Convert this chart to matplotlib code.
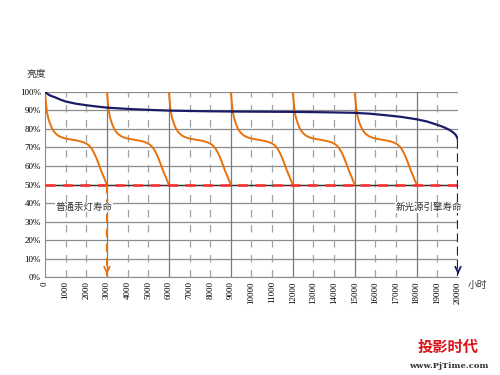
import numpy as np
import matplotlib.pyplot as plt

plt.rcParams['font.family'] = ['Noto Sans CJK SC', 'DejaVu Sans']

# one lamp cycle of the ordinary lamp (hours from cycle start, brightness %)
cycle_t = [0, 20, 40, 60, 80, 110, 150, 200, 250, 300, 350, 420, 500, 600, 700, 850, 1000, 1150,
           1300, 1450, 1600, 1750, 1900, 2000, 2100, 2180, 2250, 2320, 2400, 2480, 2550, 2620,
           2700, 2780, 2850, 2920, 3000]
cycle_v = [100, 97.5, 95, 92.5, 90.5, 88.3, 86.2, 84.3, 82.7, 81.3, 80.1, 78.8, 77.7, 76.7, 76,
           75.3, 74.8, 74.5, 74.2, 73.9, 73.6, 73.2, 72.6, 72.1, 71.3, 70.5, 69.5, 68.2, 66.5,
           64.5, 62.5, 60.4, 58, 55.8, 54, 52, 50]
cycle_starts = [0, 3000, 6000, 9000, 12000, 15000]

# new light engine
new_t = [0, 100, 200, 350, 500, 750, 1000, 1500, 2000, 2500, 3000, 4000, 5000, 6000, 7500, 9000,
         10500, 12000, 13500, 15000, 15750, 16500, 17250, 18000, 18500, 19000, 19300, 19600,
         19800, 19900, 19960, 20000]
new_v = [100, 99.1, 98.3, 97.6, 97, 95.8, 94.8, 93.6, 92.8, 92.1, 91.5, 90.8, 90.3, 89.9, 89.6,
         89.4, 89.3, 89.2, 89, 88.7, 88.2, 87.4, 86.5, 85.2, 84, 82.2, 81, 79.4, 77.8, 76.6,
         75.4, 74]

x_ticks = list(range(0, 20001, 1000))
y_ticks = list(range(0, 101, 10))

fig = plt.figure(figsize=(5, 3.75), dpi=100)
ax = fig.add_axes([0.09, 0.261, 0.826, 0.494])

navy = '#1c1c66'
orange = '#e8720c'

# grid
for y in y_ticks:
    ax.axhline(y, color='#8c8c8c', lw=0.9, zorder=1)
for x in x_ticks[1:-1]:
    if x % 3000 == 0:
        ax.axvline(x, color='#7a7a7a', lw=0.9, zorder=1)
    else:
        ax.axvline(x, color='#a0a0a0', lw=0.9, ls=(0, (6, 6)), zorder=1)

# ordinary lamp cycles
for s in cycle_starts:
    ax.plot(np.array(cycle_t) + s, cycle_v, color=orange, lw=1.4, zorder=3)

ax.plot(new_t, new_v, color=navy, lw=1.6, zorder=3)

# 50% line
ax.axhline(50, color='#333333', lw=1.0, zorder=2)
ax.axhline(50, color='#ff2a2a', lw=1.8, ls=(0, (4, 3)), zorder=4)

# lifetime markers
ax.plot([3000, 3000], [50, 0.5], color=orange, lw=1.5, ls=(0, (4, 3)), zorder=4)
ax.annotate('', xy=(3000, 0), xytext=(3000, 4),
            arrowprops=dict(arrowstyle='->', color=orange, lw=1.3, mutation_scale=10), zorder=5)
ax.plot([20000, 20000], [new_v[-1], 0.5], color=navy, lw=1.6, ls=(0, (4, 2)), zorder=4)
ax.annotate('', xy=(20000, 0), xytext=(20000, 4),
            arrowprops=dict(arrowstyle='->', color=navy, lw=1.3, mutation_scale=10), zorder=5)

ax.text(500, 36.5, '普通汞灯寿命', fontsize=6.8, color='#333333', zorder=6,
        bbox=dict(facecolor='white', edgecolor='none', pad=0.5))
ax.text(17000, 36, '新光源引擎寿命', fontsize=6.8, color='#333333', zorder=6,
        bbox=dict(facecolor='white', edgecolor='none', pad=0.5))

ax.set_xlim(0, 20000)
ax.set_ylim(0, 100)
ax.set_xticks(x_ticks)
ax.set_xticklabels([str(x) for x in x_ticks], rotation=90, family='Liberation Serif', fontsize=6.5)
ax.set_yticks(y_ticks)
ax.set_yticklabels([f'{y}%' for y in y_ticks], family='Liberation Serif', fontsize=6.5)
ax.tick_params(length=0, pad=3)
for side in ['top', 'right']:
    ax.spines[side].set_visible(False)
for side in ['left', 'bottom']:
    ax.spines[side].set_color('#8c8c8c')

fig.text(0.052, 0.795, '亮度', fontsize=7, color='#333333')
fig.text(0.935, 0.232, '小时', fontsize=7, color='#333333')

# watermark
fig.text(0.835, 0.062, '投影时代', fontsize=11, color='#d9161c', weight='bold')
fig.text(0.818, 0.018, 'www.PjTime.com', fontsize=6, color='#333333', weight='bold',
         family='DejaVu Serif')

plt.savefig('out.png', dpi=100)
